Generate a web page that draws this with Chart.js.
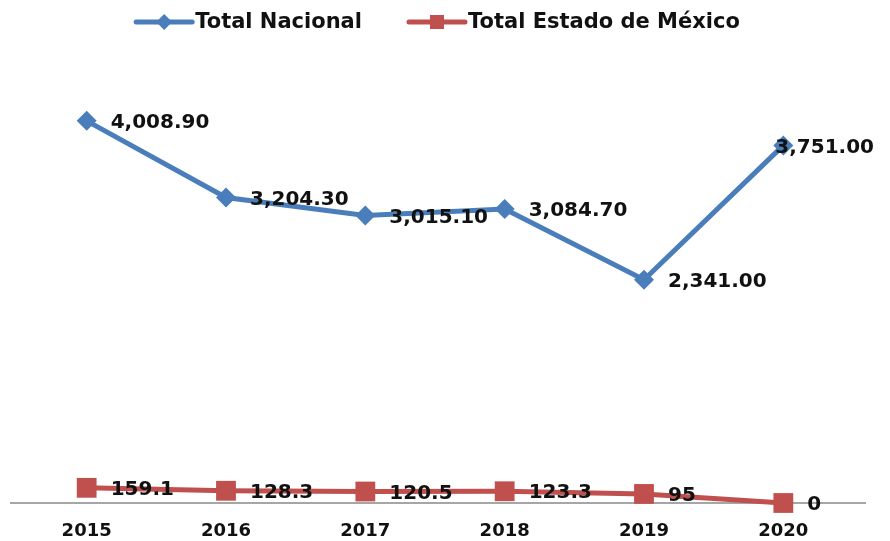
<!DOCTYPE html>
<html>
<head>
<meta charset="utf-8">
<script src="https://cdn.jsdelivr.net/npm/chart.js@4"></script>
<style>
  html, body { margin: 0; padding: 0; background: #fff; }
  #wrap { width: 890px; height: 541px; position: relative; }
</style>
</head>
<body>
<div id="wrap"><canvas id="chart" width="890" height="541"></canvas></div>
<script>

const years = ["2015", "2016", "2017", "2018", "2019", "2020"]

const totalNacional = [4008.9, 3204.3, 3015.1, 3084.7, 2341.0, 3751.0]

const totalEdomex = [159.1, 128.3, 120.5, 123.3, 95, 0]

const seriesNames = ["Total Nacional", "Total Estado de México"]

const blue = "#4a7ebb"
const red = "#c0504d"
const font = "'DejaVu Sans', sans-serif"

// values on the points, to the right of each marker
const valueLabels = {
    id: "valueLabels",
    afterDatasetsDraw(chart){
        const ctx = chart.ctx
        ctx.save()
        ctx.font = "bold 20px " + font
        ctx.fillStyle = "#111"
        ctx.textBaseline = "middle"
        ctx.textAlign = "left"
        chart.data.datasets.forEach((ds, i)=>{
            chart.getDatasetMeta(i).data.forEach((pt, j)=>{
                const v = ds.data[j]
                const txt = i === 0
                    ? v.toLocaleString("en-US", {minimumFractionDigits: 2, maximumFractionDigits: 2})
                    : String(v)
                let x = pt.x + 24
                const w = ctx.measureText(txt).width
                if(x + w > 874) x = 874 - w
                ctx.fillText(txt, x, pt.y + 2)
            })
        })
        ctx.restore()
    }
}

// line + marker legend, and the long x axis rule
const legendAndAxis = {
    id: "legendAndAxis",
    beforeDatasetsDraw(chart){
        const ctx = chart.ctx
        const y0 = chart.scales.y.getPixelForValue(0)
        ctx.save()
        ctx.strokeStyle = "#a6a6a6"
        ctx.lineWidth = 2
        ctx.beginPath()
        ctx.moveTo(10, y0)
        ctx.lineTo(866, y0)
        ctx.stroke()
        ctx.restore()
    },
    afterDraw(chart){
        const ctx = chart.ctx
        ctx.save()
        ctx.font = "bold 21px " + font
        ctx.textBaseline = "middle"
        const lineW = 56, gap = 3, between = 47
        const widths = seriesNames.map(n=> ctx.measureText(n).width)
        const total = widths.reduce((a, w)=> a + lineW + gap + w, 0) + between
        let x = (chart.width - total) / 2 - 7
        const y = 22
        chart.data.datasets.forEach((ds, i)=>{
            ctx.strokeStyle = ds.borderColor
            ctx.lineWidth = 5
            ctx.lineCap = "round"
            ctx.beginPath()
            ctx.moveTo(x, y)
            ctx.lineTo(x + lineW, y)
            ctx.stroke()
            ctx.fillStyle = ds.borderColor
            const cx = x + lineW / 2
            if(i === 0){
                ctx.beginPath()
                ctx.moveTo(cx, y - 8)
                ctx.lineTo(cx + 8, y)
                ctx.lineTo(cx, y + 8)
                ctx.lineTo(cx - 8, y)
                ctx.closePath()
                ctx.fill()
            } else {
                ctx.fillRect(cx - 7, y - 7, 14, 14)
            }
            ctx.fillStyle = "#111"
            ctx.fillText(seriesNames[i], x + lineW + gap, y + 1)
            x += lineW + gap + widths[i] + between
        })
        ctx.restore()
    }
}

new Chart(document.getElementById("chart"), {
    type: "line",
    data: {
        labels: years,
        datasets: [
            {
                label: seriesNames[0],
                data: totalNacional,
                borderColor: blue,
                backgroundColor: blue,
                borderWidth: 5,
                pointStyle: "rectRot",
                pointRadius: 10,
                pointBorderWidth: 0,
                tension: 0,
                clip: false
            },
            {
                label: seriesNames[1],
                data: totalEdomex,
                borderColor: red,
                backgroundColor: red,
                borderWidth: 5,
                pointStyle: "rect",
                pointRadius: 14,
                pointBorderWidth: 0,
                tension: 0,
                clip: false
            }
        ]
    },
    options: {
        responsive: false,
        animation: false,
        layout: { padding: { top: 74, left: 17, right: 37, bottom: 0 } },
        plugins: {
            legend: { display: false },
            tooltip: { enabled: false }
        },
        scales: {
            x: {
                offset: true,
                grid: { display: false, drawTicks: false },
                border: { display: false },
                ticks: {
                    padding: 18,
                    color: "#111",
                    font: { family: font, size: 18, weight: "bold" }
                },
                afterFit(scale){ scale.height = 38 }
            },
            y: {
                display: false,
                min: 0,
                max: 4500
            }
        }
    },
    plugins: [valueLabels, legendAndAxis]
})
</script>
</body>
</html>
